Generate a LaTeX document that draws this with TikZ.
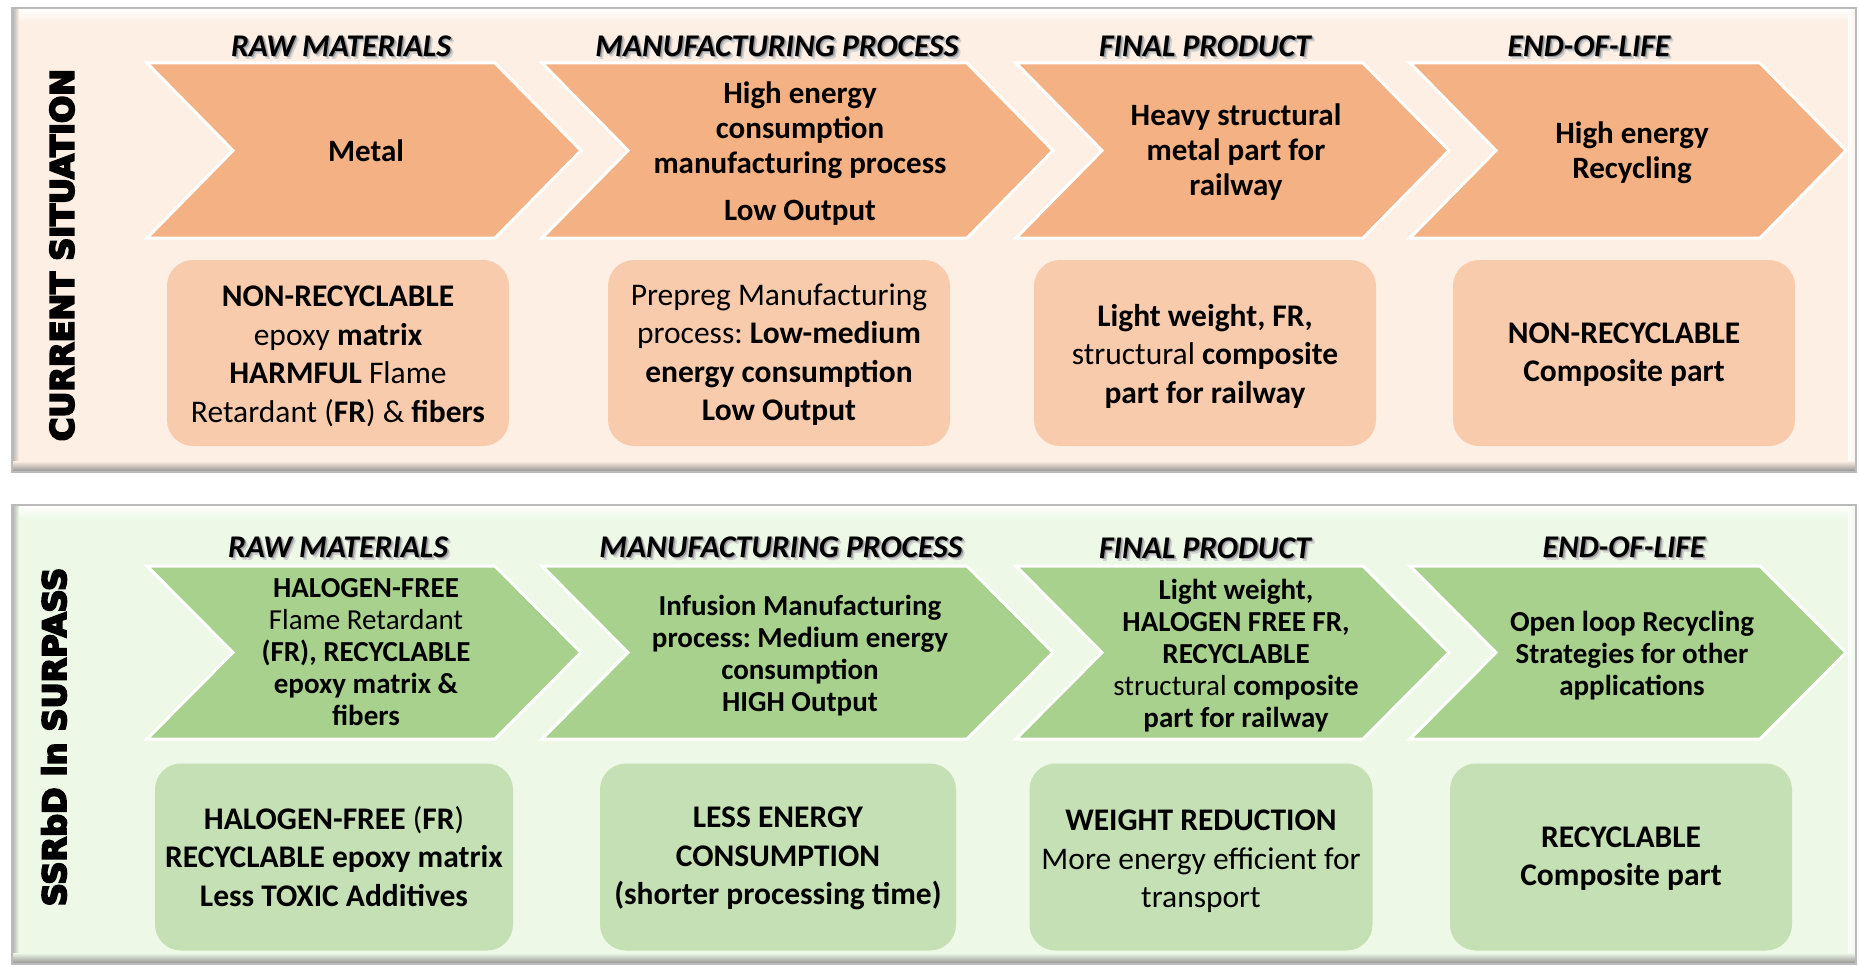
\documentclass[tikz,border=0pt]{standalone}
\usepackage{fontspec}
\setmainfont{Carlito}
\newfontfamily\blackfont{DejaVu Sans}
\definecolor{panelO}{HTML}{FDEFE4}
\definecolor{chevO}{HTML}{F4B183}
\definecolor{boxO}{HTML}{F8CBAD}
\definecolor{panelG}{HTML}{EEF8E7}
\definecolor{chevG}{HTML}{A9D18E}
\definecolor{boxG}{HTML}{C5E0B4}
\definecolor{rimgray}{HTML}{8E8E8E}
\newcommand{\mychev}[5]{\fill[#5, draw=white, line width=3pt, line join=miter] (#1,#3) -- ({#2-86},#3) -- (#2,{(#3+#4)/2}) -- ({#2-86},#4) -- (#1,#4) -- ({#1+86},{(#3+#4)/2}) -- cycle;}
\newcommand{\myhead}[4]{\node[headsh2] (#1t) at ({#2+3},{#3+3}) {#4}; \node[headsh] (#1s) at ({#2+1.5},{#3+1.5}) {#4}; \node[headtxt] (#1) at (#2,#3) {#4};}
\newcommand{\heavy}[1]{\special{pdf:literal direct 2 Tr 2 w}#1\special{pdf:literal direct 0 Tr}}
\newcommand{\mypanel}[3]{%
  \fill[#3] (12,#1) rectangle (1856,#2);
  \shade[top color=white, bottom color=#3] (12,#1) rectangle (1856,{#1+14});
  \shade[left color=white, right color=#3] ({1856-8},#1) rectangle (1856,#2);
  \shade[left color=rimgray!70, right color=#3] (12,#1) rectangle (19,#2);
  \shade[top color=#3, bottom color=rimgray] (12,{#2-11}) rectangle (1856,#2);
  \draw[rimgray!60, line width=1.2pt] (12,#1) rectangle (1856,#2);}
\begin{document}
\frenchspacing
\begin{tikzpicture}[x=1pt,y=-1pt,
  headtxt/.style={font=\bfseries\itshape\fontsize{31.6}{31.6}\selectfont, inner sep=0pt},
  headsh/.style={headtxt, text=black!40},
  headsh2/.style={headtxt, text=black!18},
  side/.style={rotate=90, font=\blackfont\bfseries\fontsize{32}{32}\selectfont, inner sep=0pt},
  ctO/.style={align=center, inner sep=0pt, font=\frenchspacing\bfseries\fontsize{31}{35}\selectfont},
  ctG/.style={align=center, inner sep=0pt, font=\frenchspacing\bfseries\fontsize{29}{32}\selectfont},
  rbox/.style={rounded corners=26pt, inner sep=0pt},
  btxt/.style={align=center, inner sep=0pt, font=\frenchspacing\fontsize{31.5}{38.5}\selectfont},
  boxOs/.style={rbox, fill=boxO, minimum width=342pt, minimum height=186pt},
  boxGs/.style={rbox, fill=boxG, minimum height=187pt}]
\useasboundingbox[fill=white] (0,0) rectangle (1859,966);

% ---------- panels ----------
\mypanel{8}{472}{panelO}
\mypanel{505}{964}{panelG}

% ---------- side labels ----------
\node[side] (sideA) at (62,255) {\heavy{CURRENT SITUATION}};
\node[side] (sideB) at (54,737) {\heavy{SSRbD in SURPASS}};

% ---------- headings ----------
\myhead{hA1}{341}{46}{RAW MATERIALS}
\myhead{hA2}{777}{46}{MANUFACTURING PROCESS}
\myhead{hA3}{1205}{46}{FINAL PRODUCT}
\myhead{hA4}{1589}{46}{END-OF-LIFE}
\myhead{hB1}{338}{547}{RAW MATERIALS}
\myhead{hB2}{781}{547}{MANUFACTURING PROCESS}
\myhead{hB3}{1205}{548}{FINAL PRODUCT}
\myhead{hB4}{1624}{547}{END-OF-LIFE}

% ---------- chevrons, current ----------
\mychev{147}{581}{63}{238}{chevO}
\mychev{542}{1053}{63}{238}{chevO}
\mychev{1016}{1449}{63}{238}{chevO}
\mychev{1410}{1846}{63}{238}{chevO}
\node[ctO] (cA1) at (366,151) {Metal};
\node[ctO] (cA2) at (800,153.5) {High energy\\consumption\\manufacturing process\\[12pt]Low Output};
\node[ctO] (cA3) at (1236,152.5) {Heavy structural\\metal part for\\railway};
\node[ctO] (cA4) at (1632,153) {High energy\\Recycling};

% ---------- boxes, current ----------
\node[boxOs] (bA1) at (338,353) {};
\node[boxOs] (bA2) at (779,353) {};
\node[boxOs] (bA3) at (1205,353) {};
\node[boxOs] (bA4) at (1624,353) {};
\node[btxt] (tA1) at ([yshift=-3.5pt]bA1.center) {\textbf{NON-RECYCLABLE}\\epoxy \textbf{matrix}\\\textbf{HARMFUL} Flame\\Retardant (\textbf{FR}) \& \textbf{fibers}};
\node[btxt] (tA2) at ([yshift=-1.5pt]bA2.center) {Prepreg Manufacturing\\process: \textbf{Low-medium}\\\textbf{energy consumption}\\\textbf{Low Output}};
\node[btxt] (tA3) at ([yshift=-3pt]bA3.center) {\textbf{Light weight, FR,}\\structural \textbf{composite}\\\textbf{part for railway}};
\node[btxt] (tA4) at ([yshift=-1.5pt]bA4.center) {\textbf{NON-RECYCLABLE}\\\textbf{Composite part}};

% ---------- chevrons, SSRbD ----------
\mychev{147}{581}{566}{739}{chevG}
\mychev{542}{1053}{566}{739}{chevG}
\mychev{1016}{1449}{566}{739}{chevG}
\mychev{1410}{1846}{566}{739}{chevG}
\node[ctG] (cB1) at (366,652) {HALOGEN-FREE\\{\mdseries Flame Retardant}\\(FR), RECYCLABLE\\epoxy matrix \&\\fibers};
\node[ctG] (cB2) at (800,655.5) {Infusion Manufacturing\\process: Medium energy\\consumption\\HIGH Output};
\node[ctG] (cB3) at (1236,655.5) {Light weight,\\HALOGEN FREE FR,\\RECYCLABLE\\{\mdseries structural} composite\\part for railway};
\node[ctG] (cB4) at (1632,655.5) {Open loop Recycling\\Strategies for other\\applications};

% ---------- boxes, SSRbD ----------
\node[boxGs, minimum width=358pt] (bB1) at (334,857) {};
\node[boxGs, minimum width=356pt] (bB2) at (778,857) {};
\node[boxGs, minimum width=343pt] (bB3) at (1201,857) {};
\node[boxGs, minimum width=342pt] (bB4) at (1621,857) {};
\node[btxt] (tB1) at ([yshift=0.5pt]bB1.center) {\textbf{HALOGEN-FREE} (\textbf{FR})\\\textbf{RECYCLABLE epoxy matrix}\\\textbf{Less TOXIC Additives}};
\node[btxt] (tB2) at ([yshift=-1.5pt]bB2.center) {\textbf{LESS ENERGY}\\\textbf{CONSUMPTION}\\\textbf{(shorter processing time)}};
\node[btxt] (tB3) at ([yshift=-4.5pt]bB3.center) {\textbf{WEIGHT REDUCTION}\\More energy efficient for\\transport};
\node[btxt] (tB4) at ([yshift=-1.5pt]bB4.center) {\textbf{RECYCLABLE}\\\textbf{Composite part}};
\end{tikzpicture}
\end{document}
